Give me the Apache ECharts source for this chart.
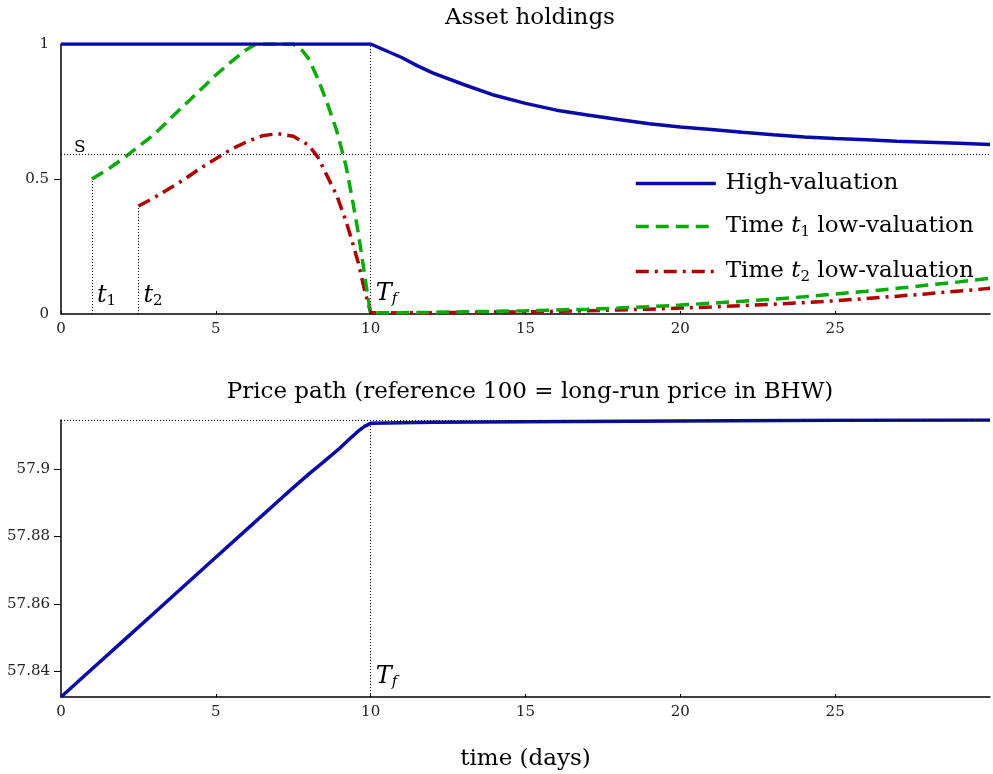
<!DOCTYPE html>
<html>
<head>
<meta charset="utf-8">
<script src="https://cdn.jsdelivr.net/npm/echarts@6/dist/echarts.min.js"></script>
<style>
  html, body { margin: 0; padding: 0; background: #fff; }
  #main { width: 993px; height: 774px; }
</style>
</head>
<body>
<div id="main"></div>
<script>
// 数据：时间轴与各条曲线
var hvT = [0, 10, 10.5, 11, 11.5, 12, 13, 14, 15, 16, 17, 18, 19, 20, 21, 22, 23, 24, 25, 26, 27, 28, 29, 30];
var hvY = [1, 1, 0.975, 0.95, 0.92, 0.893, 0.85, 0.81, 0.78, 0.755, 0.737, 0.72, 0.705, 0.693, 0.683, 0.673, 0.664, 0.656, 0.65, 0.645, 0.64, 0.636, 0.632, 0.628];

var t1T = [1, 1.5, 2, 2.5, 3, 3.5, 4, 4.5, 5, 5.5, 6, 6.3, 7, 7.5, 7.8, 8, 8.3, 8.6, 8.9, 9.2, 9.4, 9.6, 9.8, 9.9, 10,
           11, 12, 13, 14, 15, 16, 17, 18, 19, 20, 21, 22, 23, 24, 25, 26, 27, 28, 29, 30];
var t1Y = [0.5, 0.535, 0.575, 0.62, 0.665, 0.72, 0.775, 0.83, 0.885, 0.935, 0.98, 1, 1, 1, 0.975, 0.945, 0.87, 0.78, 0.68, 0.55, 0.43, 0.3, 0.15, 0.07, 0.005,
           0.005, 0.006, 0.008, 0.01, 0.012, 0.015, 0.018, 0.022, 0.027, 0.033, 0.04, 0.047, 0.055, 0.064, 0.074, 0.084, 0.095, 0.107, 0.119, 0.132];

var t2T = [2.5, 3, 3.5, 4, 4.5, 5, 5.5, 6, 6.5, 7, 7.5, 8, 8.3, 8.6, 8.9, 9.2, 9.4, 9.6, 9.8, 10,
           11, 12, 13, 14, 15, 16, 17, 18, 19, 20, 21, 22, 23, 24, 25, 26, 27, 28, 29, 30];
var t2Y = [0.4, 0.43, 0.465, 0.5, 0.54, 0.575, 0.61, 0.638, 0.66, 0.668, 0.658, 0.625, 0.58, 0.51, 0.44, 0.345, 0.27, 0.19, 0.09, 0.005,
           0.004, 0.005, 0.006, 0.007, 0.008, 0.01, 0.012, 0.015, 0.018, 0.022, 0.026, 0.031, 0.036, 0.042, 0.049, 0.057, 0.066, 0.075, 0.085, 0.095, 0.105];

var priceT = [0, 1, 2, 3, 4, 5, 6, 7, 7.5, 8, 8.5, 9, 9.3, 9.6, 9.8, 10, 12, 15, 20, 25, 30];
var priceY = [57.8323, 57.8406, 57.8489, 57.8572, 57.8655, 57.8738, 57.8821, 57.8904, 57.8945, 57.8985, 57.9023, 57.9062,
              57.9088, 57.9113, 57.9127, 57.9136, 57.9139, 57.9141, 57.9143, 57.9145, 57.9146];

var xTicks = [0, 5, 10, 15, 20, 25];
var holdTicks = [0, 0.5, 1];
var priceTicks = [57.84, 57.86, 57.88, 57.9];

var sLevel = 0.593;      // S 水平线
var t1 = 1, t2 = 2.5, Tf = 10;
var t1Start = 0.5, t2Start = 0.4;
var priceMin = 57.8323, priceMax = 57.9146;

function pairs(xs, ys) {
    return xs.map(function (x, i) { return [x, ys[i]]; });
}

var serif = 'DejaVu Serif';
var blue = '#0a0aa6', green = '#0aaa0a', red = '#b00000';

var refLine = { color: '#000', width: 1, type: [1, 2] };
var mathRich = {
    i: { fontFamily: serif, fontStyle: 'italic', fontSize: 24, color: '#000' },
    s: { fontFamily: serif, fontSize: 15, color: '#000', padding: [12, 0, 0, 0] },
    si: { fontFamily: serif, fontStyle: 'italic', fontSize: 15, color: '#000', padding: [12, 0, 0, 0] }
};

function tag(coord, text, pos) {
    return {
        coord: coord,
        symbol: 'circle',
        symbolSize: 0,
        label: { show: true, position: pos, formatter: text, rich: mathRich, fontFamily: serif, fontSize: 17, color: '#000' }
    };
}

var myChart = echarts.init(document.getElementById('main'));

var axisBase = {
    type: 'value',
    axisLine: { show: true, lineStyle: { color: '#000', width: 1.5 } },
    splitLine: { show: false },
    axisLabel: { fontFamily: serif, fontSize: 15, color: '#222' }
};

var titleFont = { fontFamily: serif, fontSize: 23, fontWeight: 'normal', color: '#000' };

var option = {
    animation: false,
    backgroundColor: '#fff',
    title: [
        { text: 'Asset holdings', left: 525, textAlign: 'center', top: 2, textStyle: titleFont },
        { text: 'Price path (reference 100 = long-run price in BHW)', left: 525, textAlign: 'center', top: 376, textStyle: titleFont }
    ],
    grid: [
        { left: 61, right: 3, top: 44, height: 270 },
        { left: 61, right: 3, top: 420, height: 277 }
    ],
    legend: {
        left: 629,
        top: 167,
        orient: 'vertical',
        itemWidth: 80,
        itemHeight: 14,
        itemGap: 20,
        itemStyle: { opacity: 0 },
        lineStyle: { width: 3.5 },
        data: ['High-valuation', 'Time t1 low-valuation', 'Time t2 low-valuation'],
        formatter: function (name) {
            if (name === 'Time t1 low-valuation') return '{n|Time }{i|t}{s|1}{n| low-valuation}';
            if (name === 'Time t2 low-valuation') return '{n|Time }{i|t}{s|2}{n| low-valuation}';
            return '{n|' + name + '}';
        },
        textStyle: {
            padding: [0, 0, 0, 5],
            rich: {
                n: { fontFamily: serif, fontSize: 23, color: '#000' },
                i: { fontFamily: serif, fontStyle: 'italic', fontSize: 23, color: '#000' },
                s: { fontFamily: serif, fontSize: 15, color: '#000', padding: [12, 0, 0, 0] }
            }
        }
    },
    xAxis: [
        Object.assign({}, axisBase, {
            gridIndex: 0, min: 0, max: 30,
            axisTick: { show: true, inside: true, length: 3, customValues: xTicks, lineStyle: { color: '#000' } },
            axisLabel: Object.assign({}, axisBase.axisLabel, { customValues: xTicks, margin: 8 })
        }),
        Object.assign({}, axisBase, {
            gridIndex: 1, min: 0, max: 30,
            name: 'time (days)', nameLocation: 'middle', nameGap: 51,
            nameTextStyle: { fontFamily: serif, fontSize: 23, color: '#000' },
            axisTick: { show: true, inside: true, length: 3, customValues: xTicks, lineStyle: { color: '#000' } },
            axisLabel: Object.assign({}, axisBase.axisLabel, { customValues: xTicks, margin: 8 })
        })
    ],
    yAxis: [
        Object.assign({}, axisBase, {
            gridIndex: 0, min: 0, max: 1,
            axisTick: { show: true, length: 7, customValues: [0.5], lineStyle: { color: '#000' } },
            axisLabel: Object.assign({}, axisBase.axisLabel, { customValues: holdTicks, margin: 12 })
        }),
        Object.assign({}, axisBase, {
            gridIndex: 1, min: priceMin, max: priceMax,
            axisTick: { show: true, length: 7, customValues: priceTicks, lineStyle: { color: '#000' } },
            axisLabel: Object.assign({}, axisBase.axisLabel, {
                customValues: priceTicks, margin: 11,
                formatter: function (v) { return String(+v.toFixed(2)); }
            })
        })
    ],
    series: [
        {
            name: 'refs-top', type: 'line', xAxisIndex: 0, yAxisIndex: 0, data: [], silent: true,
            markLine: {
                silent: true, symbol: 'none', label: { show: false }, lineStyle: refLine,
                data: [
                    [{ coord: [0, sLevel] }, { coord: [30, sLevel] }],
                    [{ coord: [t1, 0] }, { coord: [t1, t1Start] }],
                    [{ coord: [t2, 0] }, { coord: [t2, t2Start] }],
                    [{ coord: [Tf, 0] }, { coord: [Tf, 1] }]
                ]
            },
            markPoint: {
                silent: true,
                data: [
                    tag([0, sLevel], 'S', [13, -15]),
                    tag([t1, 0], '{i|t}{s|1}', [5, -32]),
                    tag([t2, 0], '{i|t}{s|2}', [5, -32]),
                    tag([Tf, 0], '{i|T}{si|f}', [5, -34])
                ]
            }
        },
        {
            name: 'High-valuation', type: 'line', xAxisIndex: 0, yAxisIndex: 0,
            data: pairs(hvT, hvY), symbol: 'none', color: blue, z: 5,
            lineStyle: { color: blue, width: 3.5 }
        },
        {
            name: 'Time t1 low-valuation', type: 'line', xAxisIndex: 0, yAxisIndex: 0,
            data: pairs(t1T, t1Y), symbol: 'none', color: green, z: 4,
            lineStyle: { color: green, width: 3.5, type: [13, 7] }
        },
        {
            name: 'Time t2 low-valuation', type: 'line', xAxisIndex: 0, yAxisIndex: 0,
            data: pairs(t2T, t2Y), symbol: 'none', color: red, z: 3,
            lineStyle: { color: red, width: 3.5, type: [13, 6, 3, 6] }
        },
        {
            name: 'refs-bottom', type: 'line', xAxisIndex: 1, yAxisIndex: 1, data: [], silent: true,
            markLine: {
                silent: true, symbol: 'none', label: { show: false }, lineStyle: refLine,
                data: [
                    [{ coord: [0, priceMax] }, { coord: [30, priceMax] }],
                    [{ coord: [Tf, priceMin] }, { coord: [Tf, priceMax] }]
                ]
            },
            markPoint: {
                silent: true,
                data: [tag([Tf, priceMin], '{i|T}{si|f}', [5, -34])]
            }
        },
        {
            name: 'Price', type: 'line', xAxisIndex: 1, yAxisIndex: 1,
            data: pairs(priceT, priceY), symbol: 'none', color: blue,
            lineStyle: { color: blue, width: 3.5 }
        }
    ]
};

myChart.setOption(option);
</script>
</body>
</html>
